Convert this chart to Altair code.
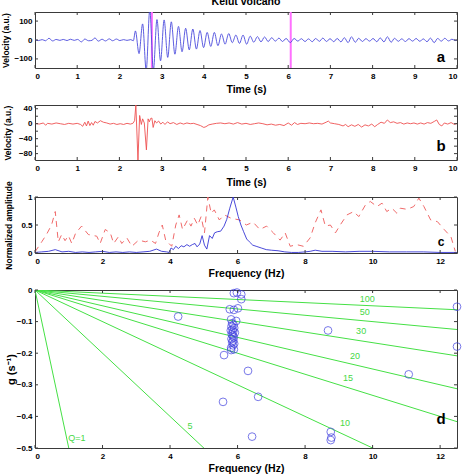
import altair as alt
import pandas as pd

FONT = "Liberation Sans"
FRAME = "#3a3a3a"
W = 422

# ---------------- panel a: vertical velocity trace (turning points) ----------------
trace_a = [
    (0.00, 1), (0.08, -3), (0.17, 2), (0.25, -4), (0.33, 9), (0.42, -5), (0.50, 3),
    (0.59, -2), (0.67, 3), (0.76, -3), (0.84, 4), (0.93, -2), (1.01, 3), (1.10, -10),
    (1.18, 5), (1.27, -4), (1.35, -2), (1.42, 11), (1.50, -6), (1.59, 4), (1.67, -5),
    (1.76, 6), (1.84, -4), (1.93, 5), (2.01, -3), (2.10, 2), (2.18, -2), (2.27, 2),
    (2.33, -4),
    (2.38, 48), (2.465, -72), (2.55, 85), (2.635, -160), (2.72, 160), (2.805, -160),
    (2.89, 108), (2.975, -110), (3.06, 106), (3.145, -92), (3.23, 96), (3.315, -75),
    (3.40, 72), (3.485, -62), (3.57, 62), (3.655, -52), (3.74, 58), (3.825, -48),
    (3.91, 50), (3.995, -40), (4.08, 40), (4.165, -34), (4.25, 40), (4.335, -30),
    (4.42, 32), (4.505, -22), (4.59, 34), (4.675, -14), (4.76, 26), (4.845, -18),
    (4.93, 26), (5.015, -22), (5.10, 20), (5.185, -12), (5.27, 18), (5.355, -10),
    (5.44, 16), (5.525, -8), (5.61, 12), (5.695, -6), (5.78, 10), (5.865, -8),
    (5.95, 8), (6.05, -14),
    (6.14, 8), (6.23, -6), (6.31, 7), (6.40, -8), (6.48, 6), (6.57, -9), (6.65, 8),
    (6.74, -7), (6.82, 10), (6.91, -8), (6.99, 7), (7.08, -9), (7.16, 8), (7.25, -10),
    (7.33, 12), (7.42, -14), (7.50, 17), (7.59, -12), (7.67, 9), (7.76, -8), (7.84, 7),
    (7.93, -6), (8.01, 8), (8.10, -9), (8.18, 11), (8.27, -10), (8.35, 17), (8.44, -12),
    (8.52, 9), (8.61, -7), (8.69, 6), (8.78, -8), (8.86, 7), (8.95, -6), (9.03, 8),
    (9.12, -7), (9.20, 6), (9.29, -9), (9.37, 10), (9.46, -14), (9.54, 8), (9.63, -6),
    (9.71, 9), (9.80, -5), (9.88, 4), (9.97, -3), (10.0, 0),
]
picks_a = [2.77, 6.06]

# ---------------- panel b: second trace ----------------
trace_b = [
    (0.00, 1), (0.10, -1), (0.20, 2), (0.25, -4), (0.30, 1), (0.40, -1), (0.50, 2),
    (0.60, 0), (0.70, -2), (0.80, 1), (0.90, -1), (1.00, 1), (1.08, -2), (1.13, -7),
    (1.18, 4), (1.22, -6), (1.26, 7), (1.30, -5), (1.34, 3), (1.38, -4), (1.42, 6),
    (1.48, 2), (1.55, 8), (1.62, 4), (1.70, 2), (1.78, -1), (1.86, 1), (1.94, -2),
    (2.02, 0), (2.10, -2), (2.18, 1), (2.26, -1), (2.32, 1), (2.36, 8), (2.39, 50),
    (2.44, -97), (2.48, 22), (2.52, -2), (2.55, 13), (2.59, 2), (2.64, -70), (2.68, 13),
    (2.71, 5), (2.74, 14), (2.77, 15), (2.80, -10), (2.84, 8), (2.88, 2), (2.93, 7),
    (2.98, -1), (3.03, 4), (3.08, -2), (3.14, 5), (3.20, 0), (3.28, 3), (3.36, -2),
    (3.44, 2), (3.52, -1), (3.60, 2), (3.68, 0), (3.76, 1), (3.84, -2), (3.92, -5),
    (4.00, -10), (4.05, -8), (4.12, -3), (4.20, -1), (4.30, 1), (4.40, 2), (4.50, 0),
    (4.60, 2), (4.70, -1), (4.80, 3), (4.90, -1), (5.00, 1), (5.10, -2), (5.20, 0),
    (5.30, 2), (5.40, 0), (5.50, -3), (5.60, -1), (5.70, -4), (5.80, -2), (5.90, -5),
    (6.00, 2), (6.08, -4), (6.15, 3), (6.22, -2), (6.30, 1), (6.40, 0), (6.50, 2),
    (6.60, 0), (6.70, 1), (6.80, -1), (6.90, 4), (6.95, 7), (7.00, 2), (7.10, 0),
    (7.20, -2), (7.30, -6), (7.36, -2), (7.42, -8), (7.50, -3), (7.58, -7), (7.66, -2),
    (7.74, -9), (7.82, -3), (7.90, -6), (7.98, -1), (8.05, -8), (8.12, -2), (8.20, 4),
    (8.28, 1), (8.35, 10), (8.42, 3), (8.50, 5), (8.58, 1), (8.66, 3), (8.74, -1),
    (8.82, 2), (8.90, 0), (8.98, 2), (9.06, -1), (9.14, 2), (9.22, -1), (9.30, 3),
    (9.38, 1), (9.46, 6), (9.52, 10), (9.58, -2), (9.64, -6), (9.70, 2), (9.78, -1),
    (9.86, 3), (9.94, -2), (10.0, 1),
]

# ---------------- panel c: normalized amplitude spectra ----------------
spec_blue = [
    (0.0, 0.01), (0.2, 0.02), (0.4, 0.03), (0.6, 0.06), (0.8, 0.02), (1.0, 0.03),
    (1.2, 0.01), (1.4, 0.02), (1.6, 0.01), (1.8, 0.02), (2.0, 0.03), (2.2, 0.01),
    (2.4, 0.02), (2.6, 0.01), (2.8, 0.02), (3.0, 0.01), (3.2, 0.02), (3.4, 0.03),
    (3.6, 0.07), (3.75, 0.03), (3.9, 0.02), (3.97, 0.01), (4.03, 0.09), (4.1, 0.06),
    (4.17, 0.12), (4.25, 0.08), (4.33, 0.13), (4.41, 0.11), (4.5, 0.15), (4.58, 0.12),
    (4.66, 0.15), (4.74, 0.17), (4.8, 0.11), (4.88, 0.16), (4.95, 0.31), (5.02, 0.14),
    (5.09, 0.07), (5.17, 0.31), (5.25, 0.26), (5.32, 0.36), (5.4, 0.38), (5.5, 0.39),
    (5.6, 0.48), (5.68, 0.6), (5.77, 0.8), (5.87, 1.0), (5.95, 0.82), (6.02, 0.65),
    (6.1, 0.5), (6.18, 0.38), (6.27, 0.25), (6.35, 0.2), (6.45, 0.14), (6.55, 0.12),
    (6.7, 0.09), (6.85, 0.06), (7.0, 0.05), (7.2, 0.04), (7.4, 0.02), (7.6, 0.01),
    (7.8, 0.01), (8.0, 0.02), (8.15, 0.03), (8.3, 0.05), (8.5, 0.03), (8.8, 0.03),
    (9.2, 0.02), (9.6, 0.03), (10.0, 0.03), (10.5, 0.02), (11.0, 0.02), (11.5, 0.02),
    (12.0, 0.01), (12.5, 0.01),
]
spec_red = [
    (0.0, 0.02), (0.2, 0.2), (0.34, 0.33), (0.49, 0.5), (0.6, 0.74), (0.69, 0.2),
    (0.79, 0.33), (0.89, 0.22), (0.99, 0.31), (1.09, 0.17), (1.2, 0.35), (1.38, 0.48),
    (1.58, 0.33), (1.83, 0.3), (1.93, 0.17), (2.08, 0.42), (2.23, 0.36), (2.33, 0.17),
    (2.47, 0.29), (2.57, 0.17), (2.72, 0.27), (2.87, 0.12), (3.07, 0.23), (3.27, 0.2),
    (3.42, 0.23), (3.57, 0.17), (3.67, 0.36), (3.77, 0.5), (3.87, 0.23), (4.05, 0.12),
    (4.17, 0.5), (4.27, 0.68), (4.37, 0.42), (4.52, 0.59), (4.62, 0.48), (4.72, 0.62),
    (4.82, 0.5), (4.92, 0.65), (5.02, 0.36), (5.12, 1.0), (5.22, 0.71), (5.31, 0.77),
    (5.46, 0.59), (5.61, 0.68), (5.81, 0.62), (6.06, 0.59), (6.26, 0.5), (6.46, 0.55),
    (6.66, 0.42), (6.86, 0.48), (7.06, 0.36), (7.26, 0.23), (7.41, 0.36), (7.56, 0.12),
    (7.75, 0.15), (7.95, 0.12), (8.15, 0.27), (8.3, 0.54), (8.47, 0.77), (8.6, 0.48),
    (8.75, 0.5), (8.9, 0.36), (9.04, 0.5), (9.24, 0.68), (9.44, 0.74), (9.59, 0.65),
    (9.79, 0.86), (9.93, 0.92), (10.13, 0.83), (10.28, 0.89), (10.42, 0.74),
    (10.57, 0.8), (10.72, 0.71), (10.82, 0.8), (11.02, 0.78), (11.22, 0.83),
    (11.37, 0.98), (11.52, 0.83), (11.72, 0.59), (11.92, 0.56), (12.12, 0.42),
    (12.32, 0.29), (12.45, 0.03),
]

# ---------------- panel d: growth rate g against frequency ----------------
g_points = [
    (4.24, -0.084), (5.89, -0.010), (5.98, -0.008), (6.11, -0.014), (6.11, -0.029),
    (5.77, -0.061), (5.89, -0.063), (6.01, -0.058), (5.81, -0.093), (5.96, -0.098),
    (5.84, -0.105), (5.88, -0.110), (5.82, -0.115), (5.90, -0.120), (5.85, -0.125),
    (5.80, -0.128), (5.87, -0.132), (5.92, -0.135), (5.83, -0.140), (5.86, -0.145),
    (5.89, -0.150), (5.82, -0.155), (5.87, -0.160), (5.84, -0.165), (5.90, -0.170),
    (5.86, -0.175), (5.81, -0.183), (5.89, -0.188), (5.81, -0.190), (5.60, -0.206),
    (5.57, -0.354), (6.31, -0.256), (6.61, -0.338), (6.43, -0.464), (8.68, -0.128),
    (8.76, -0.449), (8.78, -0.467), (8.76, -0.475), (11.07, -0.267), (12.5, -0.053),
    (12.5, -0.179),
]
q_values = [1, 5, 10, 15, 20, 30, 50, 100]
q_labels = [
    ("Q=1", 1.24, -0.468), ("5", 4.59, -0.430), ("10", 9.18, -0.420),
    ("15", 9.27, -0.278), ("20", 9.48, -0.209), ("30", 9.66, -0.130),
    ("50", 9.77, -0.070), ("100", 9.84, -0.028),
]


class Panel:
    """Shared scales and axes for every layer of one panel."""

    def __init__(self, xdom, ydom, xticks, yticks, xtitle, ytitle, yfmt, tx, ty, h, ysize=8.5):
        self.h = h
        self.xticks, self.yticks = xticks, yticks
        self.xs = alt.Scale(domain=xdom, nice=False, zero=False)
        self.ys = alt.Scale(domain=ydom, nice=False, zero=False)
        self.xa = alt.Axis(values=xticks, title=xtitle, format="d", ticks=False, domain=False,
                           grid=False, labelPadding=4, titleY=ty, titleBaseline="middle",
                           titleFontSize=10.5)
        self.ya = alt.Axis(values=yticks, title=ytitle, format=yfmt, ticks=False, domain=False,
                           grid=False, labelPadding=3, titleX=tx, titleY=h / 2,
                           titleAngle=270, titleAlign="center", titleBaseline="middle",
                           titleFontSize=ysize)

    def x(self, field):
        return alt.X(field, scale=self.xs, axis=self.xa)

    def y(self, field):
        return alt.Y(field, scale=self.ys, axis=self.ya)

    def ticks(self, L=3):
        """Inward tick marks on all four sides."""
        xt = pd.DataFrame({"v": self.xticks})
        yt = pd.DataFrame({"v": self.yticks})
        rule = dict(color=FRAME, strokeWidth=1)
        h = self.h
        return [
            alt.Chart(xt).mark_rule(**rule).encode(x=self.x("v:Q"), y=alt.value(h), y2=alt.value(h - L)),
            alt.Chart(xt).mark_rule(**rule).encode(x=self.x("v:Q"), y=alt.value(0), y2=alt.value(L)),
            alt.Chart(yt).mark_rule(**rule).encode(y=self.y("v:Q"), x=alt.value(0), x2=alt.value(L)),
            alt.Chart(yt).mark_rule(**rule).encode(y=self.y("v:Q"), x=alt.value(W), x2=alt.value(W - L)),
        ]

    def label(self, txt, xv, yv, size=15):
        return alt.Chart(pd.DataFrame({"x": [xv], "y": [yv], "s": [txt]})).mark_text(
            font=FONT, fontWeight="bold", fontSize=size, color="black",
            align="center", baseline="alphabetic"
        ).encode(x=self.x("x:Q"), y=self.y("y:Q"), text="s:N")


t_ticks = list(range(11))
f_ticks = [0, 2, 4, 6, 8, 10, 12]

# ---------- panel a ----------
pa = Panel([0, 10], [-148, 148], t_ticks, [-100, 0, 100], "Time (s)", "Velocity (a.u.)", "d", -30, 21, 56)
line_a = alt.Chart(pd.DataFrame(trace_a, columns=["t", "v"])).mark_line(
    color="#4b4bdc", strokeWidth=0.9, interpolate="monotone", clip=True
).encode(x=pa.x("t:Q"), y=pa.y("v:Q"))
picks = alt.Chart(pd.DataFrame({"t": picks_a})).mark_rule(color="#ff70ff", strokeWidth=2).encode(x=pa.x("t:Q"))
title_a = alt.Chart(pd.DataFrame({"s": ["Kelut volcano"]})).mark_text(
    font=FONT, fontWeight="bold", fontSize=10.5, color="black", baseline="middle"
).encode(text="s:N", x=alt.value(W / 2), y=alt.value(-10))
chart_a = alt.layer(picks, line_a, *pa.ticks(), pa.label("a", 9.62, -116), title_a).properties(width=W, height=56)

# ---------- panel b ----------
pb = Panel([0, 10], [-97, 50], t_ticks, [40, 20, 0, -20, -40, -60, -80], "Time (s)", "Velocity (a.u.)", "d", -28, 22, 55)
line_b = alt.Chart(pd.DataFrame(trace_b, columns=["t", "v"])).mark_line(
    color="#ee5050", strokeWidth=0.9, clip=True
).encode(x=pb.x("t:Q"), y=pb.y("v:Q"))
chart_b = alt.layer(line_b, *pb.ticks(), pb.label("b", 9.62, -73)).properties(width=W, height=55)

# ---------- panel c ----------
pc = Panel([0, 12.5], [0, 1], f_ticks, [0, 0.5, 1], "Frequency (Hz)", "Normalized amplitude", "~g", -27, 20, 56)
red_c = alt.Chart(pd.DataFrame(spec_red, columns=["f", "a"])).mark_line(
    color="#f06a6a", strokeWidth=1, strokeDash=[6, 5], clip=True
).encode(x=pc.x("f:Q"), y=pc.y("a:Q"))
blue_c = alt.Chart(pd.DataFrame(spec_blue, columns=["f", "a"])).mark_line(
    color="#3535d5", strokeWidth=0.9, clip=True
).encode(x=pc.x("f:Q"), y=pc.y("a:Q"))
chart_c = alt.layer(red_c, blue_c, *pc.ticks(), pc.label("c", 12.03, 0.125, size=12)).properties(width=W, height=56)

# ---------- panel d ----------
pd_ = Panel([0, 12.5], [-0.5, 0], f_ticks, [0, -0.1, -0.2, -0.3, -0.4, -0.5], "Frequency (Hz)",
            "g (s⁻¹)", ".1~f", -24, 20, 158, ysize=11)
# constant-Q lines: g = -f / (2Q), from the origin to the right edge
q_rows = []
for q in q_values:
    q_rows.append({"Q": q, "f": 0.0, "g": 0.0})
    q_rows.append({"Q": q, "f": 12.5, "g": -12.5 / (2 * q)})
qlines = alt.Chart(pd.DataFrame(q_rows)).mark_line(color="#45e045", strokeWidth=1, clip=True).encode(
    x=pd_.x("f:Q"), y=pd_.y("g:Q"), detail="Q:N"
)
qtext = alt.Chart(pd.DataFrame(q_labels, columns=["s", "f", "g"])).mark_text(
    font=FONT, fontSize=9, color="#45d845", align="center", baseline="middle"
).encode(x=pd_.x("f:Q"), y=pd_.y("g:Q"), text="s:N")
dots = alt.Chart(pd.DataFrame(g_points, columns=["f", "g"])).mark_point(
    shape="circle", filled=False, color="#4040e0", size=60, strokeWidth=1
).encode(x=pd_.x("f:Q"), y=pd_.y("g:Q"))
chart_d = alt.layer(qlines, qtext, dots, *pd_.ticks(), pd_.label("d", 12.03, -0.424)).properties(width=W, height=158)

chart = alt.vconcat(chart_a, chart_b, chart_c, chart_d, spacing=37, bounds="flush").properties(
    padding={"left": 0, "top": -4, "right": 2, "bottom": 0}
).configure_view(stroke=FRAME, strokeWidth=1).configure_axis(
    labelFont=FONT, labelFontWeight="bold", labelFontSize=8, labelColor="black",
    titleFont=FONT, titleFontWeight="bold", titleColor="black",
)

chart.save("out.html", embed_options={"renderer": "svg", "actions": False})
